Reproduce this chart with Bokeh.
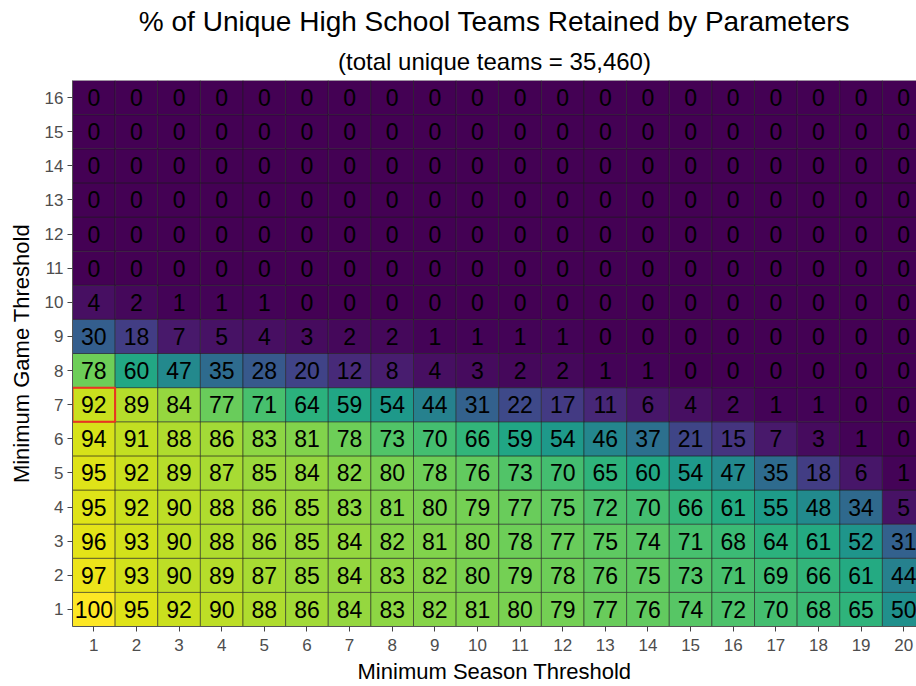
from bokeh.plotting import figure
from bokeh.models import ColumnDataSource, LinearColorMapper, Title, FixedTicker
from bokeh.palettes import Viridis256
from bokeh.transform import transform
from bokeh.core.properties import value
from bokeh.embed import file_html
from bokeh.resources import INLINE

seasons = list(range(1, 21))
games = list(range(1, 17))

# pct retained, one list per minimum game threshold (rows), across season thresholds 1..20
g1 = [100, 95, 92, 90, 88, 86, 84, 83, 82, 81, 80, 79, 77, 76, 74, 72, 70, 68, 65, 50]
g2 = [97, 93, 90, 89, 87, 85, 84, 83, 82, 80, 79, 78, 76, 75, 73, 71, 69, 66, 61, 44]
g3 = [96, 93, 90, 88, 86, 85, 84, 82, 81, 80, 78, 77, 75, 74, 71, 68, 64, 61, 52, 31]
g4 = [95, 92, 90, 88, 86, 85, 83, 81, 80, 79, 77, 75, 72, 70, 66, 61, 55, 48, 34, 5]
g5 = [95, 92, 89, 87, 85, 84, 82, 80, 78, 76, 73, 70, 65, 60, 54, 47, 35, 18, 6, 1]
g6 = [94, 91, 88, 86, 83, 81, 78, 73, 70, 66, 59, 54, 46, 37, 21, 15, 7, 3, 1, 0]
g7 = [92, 89, 84, 77, 71, 64, 59, 54, 44, 31, 22, 17, 11, 6, 4, 2, 1, 1, 0, 0]
g8 = [78, 60, 47, 35, 28, 20, 12, 8, 4, 3, 2, 2, 1, 1, 0, 0, 0, 0, 0, 0]
g9 = [30, 18, 7, 5, 4, 3, 2, 2, 1, 1, 1, 1, 0, 0, 0, 0, 0, 0, 0, 0]
g10 = [4, 2, 1, 1, 1, 0, 0, 0, 0, 0, 0, 0, 0, 0, 0, 0, 0, 0, 0, 0]
g11 = [0] * 20
g12 = [0] * 20
g13 = [0] * 20
g14 = [0] * 20
g15 = [0] * 20
g16 = [0] * 20
rows = [g1, g2, g3, g4, g5, g6, g7, g8, g9, g10, g11, g12, g13, g14, g15, g16]

highlight_season = [1]
highlight_game = [7]

xs, ys, vals, labels = [], [], [], []
for g, row in zip(games, rows):
    for s, v in zip(seasons, row):
        xs.append(s)
        ys.append(g)
        vals.append(v)
        labels.append(str(v))

src = ColumnDataSource(dict(x=xs, y=ys, v=vals, label=labels))
mapper = LinearColorMapper(palette=Viridis256, low=0, high=100)

p = figure(width=916, height=686, output_backend="svg", toolbar_location=None,
           x_range=(0.5, 20.3), y_range=(0.5, 16.5), title=None,
           min_border_left=72, min_border_right=0, min_border_bottom=56, min_border_top=0)

p.rect(x="x", y="y", width=1, height=1, source=src,
       fill_color=transform("v", mapper), line_color="#1a1a1a", line_width=0.7, line_alpha=0.75)
p.rect(x=highlight_season, y=highlight_game, width=1, height=1, fill_color=None,
       line_color="#EE3322", line_width=2)
p.text(x="x", y="y", text="label", source=src, text_align="center", text_baseline="middle",
       text_font=value("Liberation Sans"), text_font_size="23px", text_color="black")

p.add_layout(Title(text="(total unique teams = 35,460)", align="center",
                   text_font="Liberation Sans", text_font_size="24px",
                   text_font_style="normal", text_color="black", standoff=12), "above")
p.add_layout(Title(text="% of Unique High School Teams Retained by Parameters", align="center",
                   text_font="Liberation Sans", text_font_size="28px",
                   text_font_style="normal", text_color="black", standoff=6), "above")

for ax in (p.xaxis, p.yaxis):
    ax.axis_line_color = "#555555"
    ax.axis_line_width = 1
    ax.major_tick_line_color = "#444444"
    ax.major_tick_in = 0
    ax.major_tick_out = 5
    ax.minor_tick_line_color = None
    ax.major_label_text_font = "Liberation Sans"
    ax.major_label_text_font_size = "17px"
    ax.major_label_text_color = "#4D4D4D"
    ax.axis_label_text_font = "Liberation Sans"
    ax.axis_label_text_font_size = "22px"
    ax.axis_label_text_font_style = "normal"
    ax.axis_label_text_color = "black"

p.xaxis.ticker = FixedTicker(ticks=seasons)
p.yaxis.ticker = FixedTicker(ticks=games)
p.xaxis.axis_label = "Minimum Season Threshold"
p.yaxis.axis_label = "Minimum Game Threshold"
p.xaxis.major_label_standoff = 7
p.yaxis.major_label_standoff = 4
p.xaxis.axis_label_standoff = 5
p.yaxis.axis_label_standoff = 8

p.xgrid.grid_line_color = None
p.ygrid.grid_line_color = None
p.outline_line_color = None
p.background_fill_color = "white"

open("out.html", "w").write(file_html(p, INLINE))
